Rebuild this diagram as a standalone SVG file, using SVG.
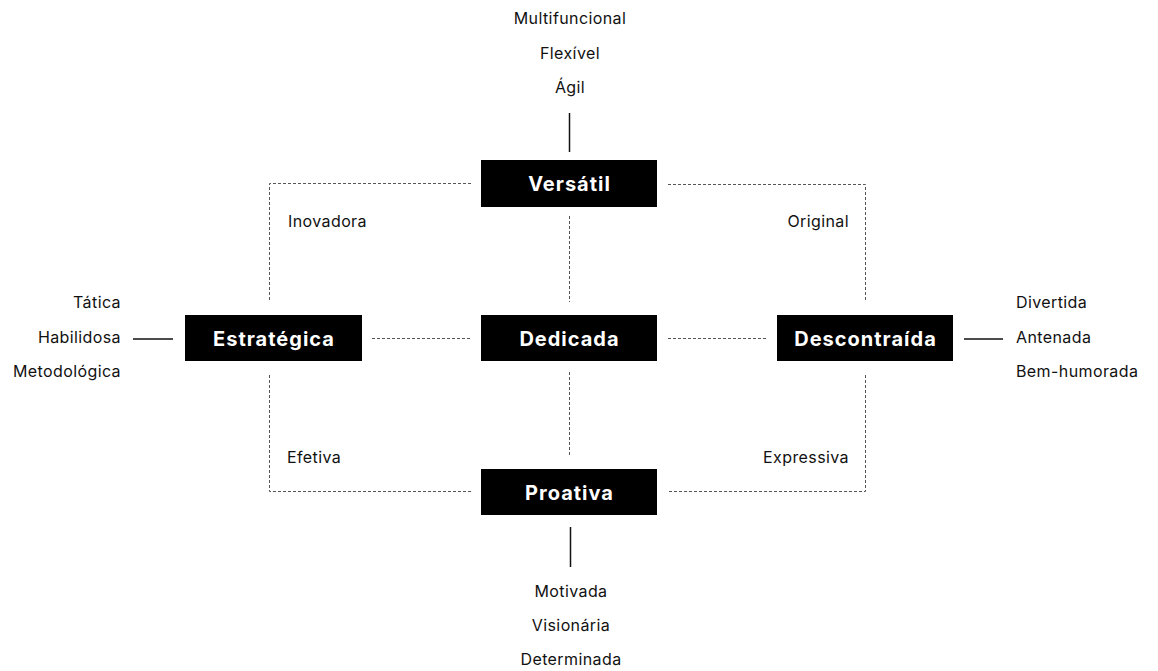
<svg xmlns="http://www.w3.org/2000/svg" width="1158" height="671" viewBox="0 0 1158 671">
<style>
.bg{fill:#fff}
.box{fill:#000}
.bt{font-family:Inter,"Liberation Sans",sans-serif;font-weight:700;font-size:20px;letter-spacing:1px;fill:#fff;text-anchor:middle}
.lb{font-family:Inter,"Liberation Sans",sans-serif;font-size:16px;letter-spacing:0.4px;fill:#111}
.mid{text-anchor:middle}
.end{text-anchor:end}
.dash{fill:none;stroke:#555;stroke-width:1;stroke-dasharray:3 2}
.solid{fill:none;stroke:#111;stroke-width:1.5}
</style>
<rect class="bg" width="1158" height="671"/>
<g id="connectors">
<path class="dash" d="M471,183.5 H269.5 V302"/>
<path class="dash" d="M668,184.5 H865.5 V302"/>
<path class="dash" d="M269.5,375 V491.5 H471"/>
<path class="dash" d="M865.5,375 V491.5 H668"/>
<path class="dash" d="M569.5,216 V302"/>
<path class="dash" d="M569.5,372 V456"/>
<path class="dash" d="M372,338.5 H471"/>
<path class="dash" d="M668,338.5 H766"/>
<path class="solid" d="M569.5,113 V152"/>
<path class="solid" d="M570.5,527 V567"/>
<path class="solid" d="M133,339 H173"/>
<path class="solid" d="M964,339 H1003"/>
</g>
<g id="versatil">
<rect class="box" x="481" y="160" width="176" height="47"/>
<text class="bt" x="569.5" y="191">Versátil</text>
</g>
<g id="estrategica">
<rect class="box" x="185" y="315" width="177" height="46"/>
<text class="bt" x="274" y="345.5">Estratégica</text>
</g>
<g id="dedicada">
<rect class="box" x="481" y="315" width="176" height="46"/>
<text class="bt" x="569.5" y="345.5">Dedicada</text>
</g>
<g id="descontraida">
<rect class="box" x="777" y="315" width="176" height="46"/>
<text class="bt" x="865.5" y="345.5">Descontraída</text>
</g>
<g id="proativa">
<rect class="box" x="481" y="469" width="176" height="46"/>
<text class="bt" x="569.5" y="499.5">Proativa</text>
</g>
<g id="labels-top">
<text class="lb mid" x="570" y="24">Multifuncional</text>
<text class="lb mid" x="570" y="59">Flexível</text>
<text class="lb mid" x="570" y="93">Ágil</text>
</g>
<g id="labels-left">
<text class="lb end" x="121" y="308">Tática</text>
<text class="lb end" x="121" y="343">Habilidosa</text>
<text class="lb end" x="121" y="377">Metodológica</text>
</g>
<g id="labels-right">
<text class="lb" x="1016" y="308">Divertida</text>
<text class="lb" x="1016" y="343">Antenada</text>
<text class="lb" x="1016" y="377">Bem-humorada</text>
</g>
<g id="labels-bottom">
<text class="lb mid" x="571" y="597">Motivada</text>
<text class="lb mid" x="571" y="631">Visionária</text>
<text class="lb mid" x="571" y="665">Determinada</text>
</g>
<g id="labels-inner">
<text class="lb" x="288" y="227">Inovadora</text>
<text class="lb end" x="849" y="227">Original</text>
<text class="lb" x="287" y="463">Efetiva</text>
<text class="lb end" x="849" y="463">Expressiva</text>
</g>
</svg>
